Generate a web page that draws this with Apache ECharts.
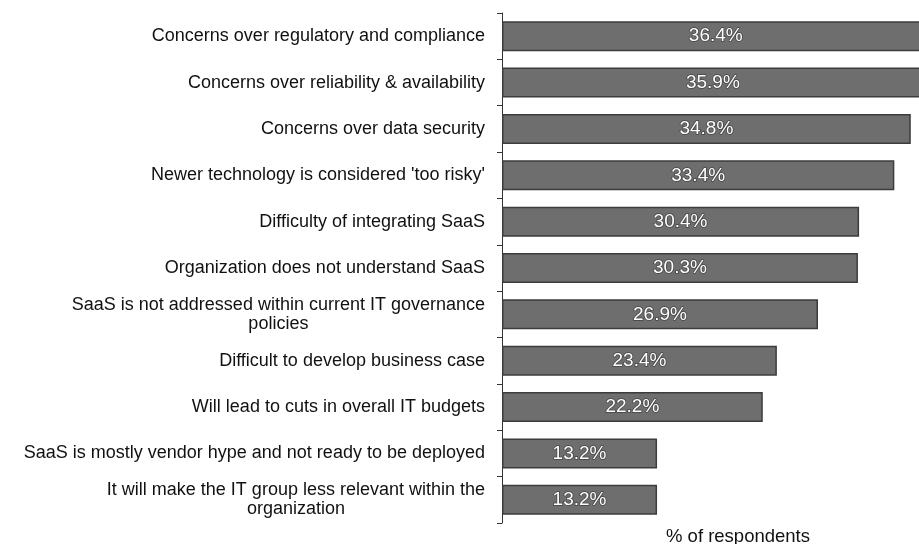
<!DOCTYPE html>
<html>
<head>
<meta charset="utf-8">
<script src="https://cdn.jsdelivr.net/npm/echarts@6/dist/echarts.min.js"></script>
<style>html,body{margin:0;padding:0;background:#fff}#c{width:919px;height:544px}</style>
</head>
<body>
<div id="c"></div>
<script>
const categories = [
  "Concerns over regulatory and compliance",
  "Concerns over reliability & availability",
  "Concerns over data security",
  "Newer technology is considered 'too risky'",
  "Difficulty of integrating SaaS",
  "Organization does not understand SaaS",
  "SaaS is not addressed within current IT governance\npolicies",
  "Difficult to develop business case",
  "Will lead to cuts in overall IT budgets",
  "SaaS is mostly vendor hype and not ready to be deployed",
  "It will make the IT group less relevant within the\norganization"
];
const values = [36.4, 35.9, 34.8, 33.4, 30.4, 30.3, 26.9, 23.4, 22.2, 13.2, 13.2];
const axisName = "% of respondents";

const FONT = "'Liberation Sans', Arial, sans-serif";
const labelSize = 18;
const ctx = document.createElement('canvas').getContext('2d');
ctx.font = labelSize + "px " + FONT;
const yData = categories.map(c => {
  if (c.indexOf('\n') < 0) return c;
  const w = Math.max(...c.split('\n').map(s => ctx.measureText(s).width));
  return { value: c, textStyle: { align: 'center', padding: [0, w, 0, 0] } };
});

const chart = echarts.init(document.getElementById('c'));
chart.setOption({
  animation: false,
  title: {
    text: axisName, left: 666, top: 527, padding: 0,
    textStyle: { fontFamily: FONT, fontSize: 18.5, fontWeight: 'normal', color: '#111' }
  },
  grid: { left: 502, right: 0, top: 13, bottom: 21, containLabel: false },
  xAxis: {
    type: 'value', min: 0, max: 35.5,
    show: false
  },
  yAxis: {
    type: 'category', inverse: true, data: yData,
    axisLine: { show: true, lineStyle: { color: '#333', width: 1 } },
    axisTick: { show: true, length: 5, lineStyle: { color: '#333' } },
    axisLabel: {
      margin: 17, fontSize: labelSize, color: '#111', lineHeight: 19,
      fontFamily: FONT
    },
    splitLine: { show: false }
  },
  series: [{
    type: 'bar', data: values, barWidth: 30, clip: false,
    itemStyle: { color: '#6e6e6e', borderColor: '#3c3c3c', borderWidth: 1.5 },
    label: {
      show: true, position: 'inside', formatter: p => p.value.toFixed(1) + '%',
      color: '#fff', fontSize: 19, fontFamily: FONT,
      textBorderColor: '#444', textBorderWidth: 1.5
    }
  }]
});
</script>
</body>
</html>
